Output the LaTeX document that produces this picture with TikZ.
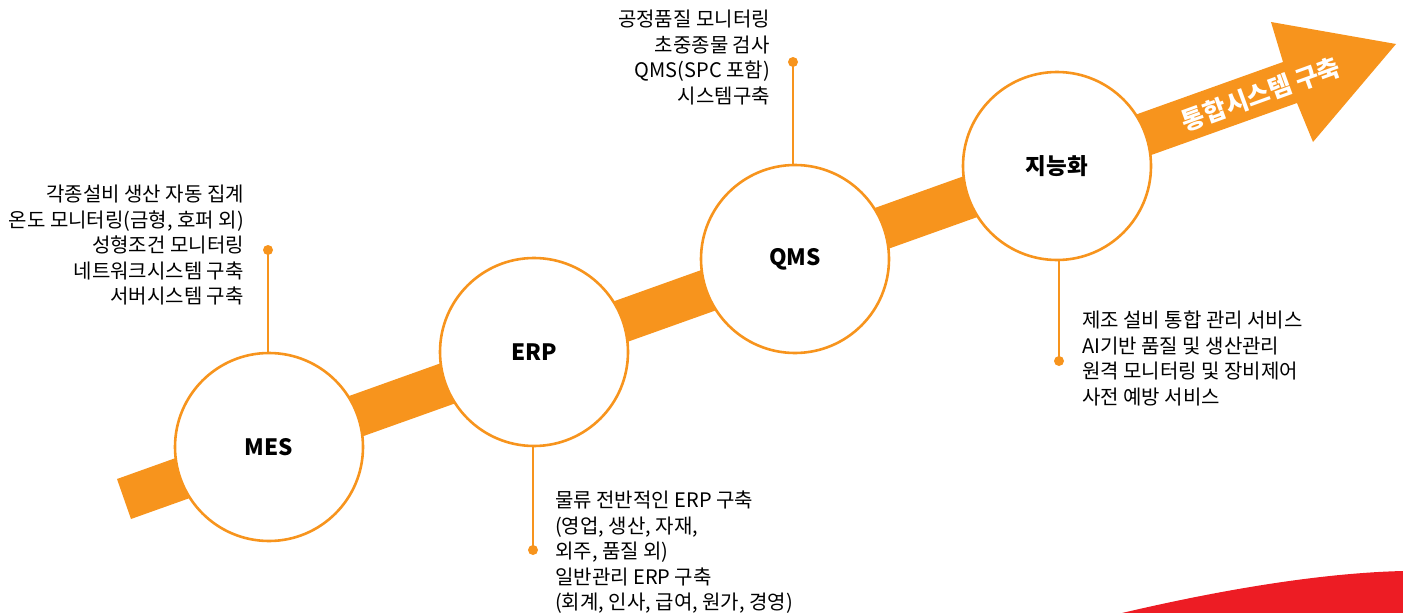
\documentclass[tikz,border=0pt]{standalone}
\usepackage{fontspec}
\setmainfont{Noto Sans CJK KR}
\definecolor{orn}{HTML}{F7941D}
\definecolor{rd}{HTML}{ED1C24}
\begin{document}
\begin{tikzpicture}[x=1pt,y=-1pt,
  bubble/.style={circle,draw=orn,line width=2.6pt,fill=white,minimum size=188pt,inner sep=0pt,font=\fontsize{22.5}{26}\selectfont\bfseries},
  dotnode/.style={circle,fill=orn,minimum size=10pt,inner sep=0pt},
  conn/.style={draw=orn,line width=2.4pt},
  desc/.style={inner sep=0pt,font=\fontsize{20}{25.5}\selectfont}]
\useasboundingbox (0,0) rectangle (1403,613);
\fill[rd] (1122,613) .. controls (1220,590) and (1320,573) .. (1403,571) -- (1403,613) -- cycle;
\fill[orn] (117,479) -- (1283,62) -- (1271,22) -- (1396,44) -- (1313,142) -- (1297,103) -- (131,519) -- cycle;
\node[rotate=20,text=white,font=\fontsize{25}{28}\selectfont\bfseries] (bandtxt) at (1261,94) {통합시스템 구축};
\node[bubble] (mes) at (269,447) {MES};
\node[bubble] (erp) at (534,352) {ERP};
\node[bubble] (qms) at (795,259) {QMS};
\node[bubble] (ai) at (1057,166) {지능화};
\node[dotnode] (mesdot) at (268,250) {};
\node[dotnode] (erpdot) at (533,550) {};
\node[dotnode] (qmsdot) at (793,62) {};
\node[dotnode] (aidot) at (1059,361) {};
\draw[conn] (mesdot.center) -- (mesdot.center |- mes.north);
\draw[conn] (erpdot.center) -- (erpdot.center |- erp.south);
\draw[conn] (qmsdot.center) -- (qmsdot.center |- qms.north);
\draw[conn] (aidot.center) -- (aidot.center |- ai.south);
\node[desc,anchor=north east,align=right] (mestxt) at (244,185) {각종설비 생산 자동 집계\\온도 모니터링(금형, 호퍼 외)\\성형조건 모니터링\\네트워크시스템 구축\\서버시스템 구축};
\node[desc,anchor=north west,align=left] (erptxt) at (555,491) {물류 전반적인 ERP 구축\\(영업, 생산, 자재,\\외주, 품질 외)\\일반관리 ERP 구축\\(회계, 인사, 급여, 원가, 경영)};
\node[desc,anchor=north east,align=right] (qmstxt) at (770,10) {공정품질 모니터링\\초중종물 검사\\QMS(SPC 포함)\\시스템구축};
\node[desc,anchor=north west,align=left] (aitxt) at (1082,311) {제조 설비 통합 관리 서비스\\AI기반 품질 및 생산관리\\원격 모니터링 및 장비제어\\사전 예방 서비스};
\end{tikzpicture}
\end{document}
